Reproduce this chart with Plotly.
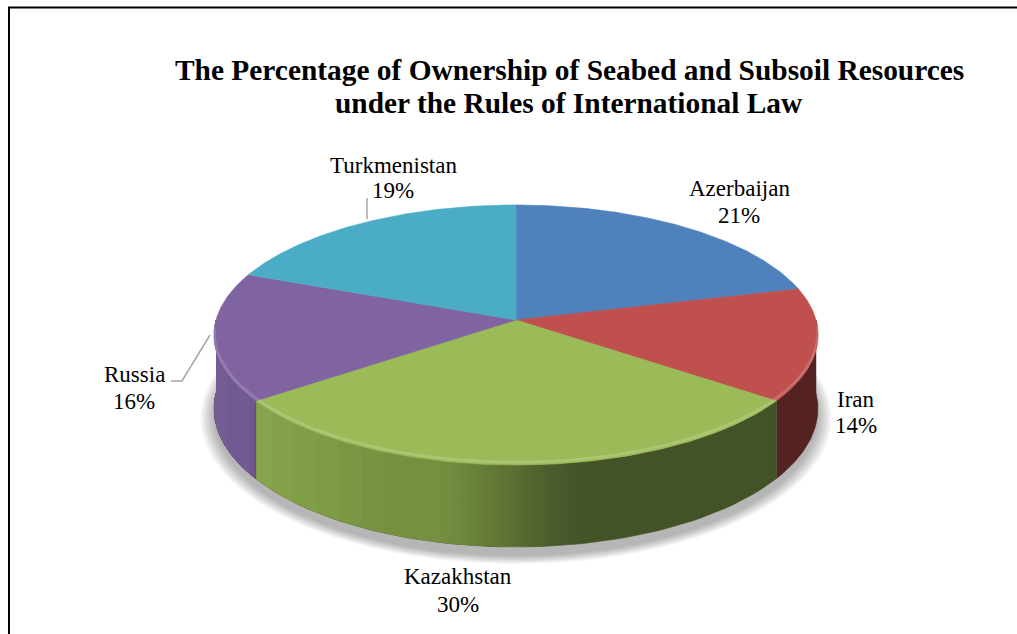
import numpy as np
import plotly.graph_objects as go

# Shares of seabed and subsoil resources (percent), clockwise from 12 o'clock
countries = ["Azerbaijan", "Iran", "Kazakhstan", "Russia", "Turkmenistan"]
shares = [21, 14, 30, 16, 19]
top_colors = ["#4F81BD", "#C0504D", "#9BBB59", "#8064A2", "#4BACC6"]

title_lines = [
    "The Percentage of Ownership of Seabed and Subsoil Resources",
    "under the Rules of International Law",
]

# Label placement (pixel space of the 1017x634 canvas)
label_pos = {
    "Azerbaijan": (739, 188, 215),
    "Iran": (856, 399, 425),
    "Kazakhstan": (458, 576, 604),
    "Russia": (134, 374, 401),
    "Turkmenistan": (393, 165, 190),
}

W, H = 1017, 634
CX, CY = 516, 320      # pie centre on screen
A, B = 300, 128.3      # projected half-axes of the disc
K = 0.1154             # perspective strength (front of the disc is nearer)
DEPTH = 72.5           # thickness of the disc
SERIF = "Liberation Serif, Times New Roman, serif"


def proj(theta_deg, drop=0.0, grow=1.0):
    """Project a point of the tilted disc rim (angle in degrees, CCW from +x)."""
    t = np.radians(theta_deg)
    x, z = np.cos(t) * grow, np.sin(t) * grow
    s = 1.0 / (1.0 + K * z)
    return CX + A * x * s, CY + (drop - B * z) * s


def shade(hex_color, f):
    h = hex_color.lstrip("#")
    r, g, b = (int(h[i:i + 2], 16) for i in (0, 2, 4))
    return (int(r * f), int(g * f), int(b * f))


def side_light(u):
    u = np.asarray(u, dtype=float)
    t = np.clip((u - 0.35) / 0.3, 0, 1)
    smooth = t * t * (3 - 2 * t)
    return 0.92 - 0.12 * np.minimum(u / 0.3, 1.0) - 0.36 * smooth


F_MAX, F_MIN = float(side_light(0.0)), float(side_light(1.0))


def wall(t0, t1, n=60):
    th = np.linspace(t0, t1, n)
    tx, ty = proj(th)
    bx, by = proj(th[::-1], drop=DEPTH)
    return np.concatenate([tx, bx]), np.concatenate([ty, by])


fig = go.Figure()

# soft drop shadow under the disc
for k in range(10):
    g = 1.0 + 0.005 * k
    th = np.linspace(0, 360, 241)
    sx, sy = proj(th, drop=DEPTH + 8, grow=g)
    fig.add_trace(go.Scatter(x=sx, y=sy, fill="toself", mode="lines",
                             line=dict(width=0), fillcolor="rgba(0,0,0,0.03)",
                             hoverinfo="skip", showlegend=False))

total = float(sum(shares))
cum = np.concatenate([[0], np.cumsum(shares)]) / total
starts = 90 - 360 * cum[:-1]
ends = 90 - 360 * cum[1:]

# brightness along the front half, used to place the gradient layers
grid = np.linspace(180, 360, 1801)
gx, _ = proj(grid)
blend = (side_light((gx - (CX - A)) / (2 * A)) - F_MIN) / (F_MAX - F_MIN)
N_LAYERS = 32
cut = []
for n in range(1, N_LAYERS + 1):
    level = (n - 0.5) / N_LAYERS
    idx = np.where(blend >= level)[0]
    cut.append(grid[idx.max()] if idx.size else 180.0)

# side walls: dark base plus stacked lighter layers give a smooth gradient
for name, a0, a1, col in zip(countries, starts, ends, top_colors):
    lo, hi = min(a0, a1), max(a0, a1)
    for off in (-360, 0, 360):
        s0, s1 = max(lo + off, 180), min(hi + off, 360)
        if s1 <= s0:
            continue
        dark = "rgb({},{},{})".format(*shade(col, F_MIN))
        light = shade(col, F_MAX)
        wx, wy = wall(s0, s1)
        fig.add_trace(go.Scatter(x=wx, y=wy, fill="toself", mode="lines",
                                 line=dict(width=0.5, color=dark), fillcolor=dark,
                                 hoverinfo="skip", showlegend=False))
        for n in range(1, N_LAYERS + 1):
            e = min(s1, cut[n - 1])
            if e <= s0:
                continue
            alpha = 1.0 / (N_LAYERS - n + 1)
            wx, wy = wall(s0, e)
            fig.add_trace(go.Scatter(
                x=wx, y=wy, fill="toself", mode="none",
                fillcolor="rgba({},{},{},{:.4f})".format(*light, alpha),
                hoverinfo="skip", showlegend=False))

# top faces of the slices
for name, a0, a1, col in zip(countries, starts, ends, top_colors):
    th = np.linspace(a0, a1, 140)
    ex, ey = proj(th)
    xs = np.concatenate([[CX], ex, [CX]])
    ys = np.concatenate([[CY], ey, [CY]])
    fig.add_trace(go.Scatter(x=xs, y=ys, fill="toself", mode="lines",
                             line=dict(width=0.6, color=col), fillcolor=col,
                             hoverinfo="skip", showlegend=False, name=name))

# rounded-bevel highlight along the front rim of the top face
th = np.linspace(184, 356, 200)
hx, hy = proj(th, drop=-2.5)
fig.add_trace(go.Scatter(x=hx, y=hy, mode="lines",
                         line=dict(width=3, color="rgba(255,255,255,0.16)"),
                         hoverinfo="skip", showlegend=False))

# data labels
for name, v in zip(countries, shares):
    lx, ly1, ly2 = label_pos[name]
    fig.add_annotation(x=lx, y=ly1, text=name, showarrow=False,
                       font=dict(family=SERIF, size=23, color="#000000"),
                       xanchor="center", yanchor="middle")
    fig.add_annotation(x=lx, y=ly2, text="{:d}%".format(round(100 * v / total)),
                       showarrow=False,
                       font=dict(family=SERIF, size=23, color="#000000"),
                       xanchor="center", yanchor="middle")

# leader lines
fig.add_trace(go.Scatter(x=[367, 367], y=[198, 219], mode="lines",
                         line=dict(width=1.5, color="#a6a6a6"),
                         hoverinfo="skip", showlegend=False))
fig.add_trace(go.Scatter(x=[171, 182, 210], y=[381, 381, 335], mode="lines",
                         line=dict(width=1.5, color="#a6a6a6"),
                         hoverinfo="skip", showlegend=False))

# chart title
for i, line in enumerate(title_lines):
    fig.add_annotation(x=569, y=[70, 103][i], text="<b>{}</b>".format(line),
                       showarrow=False,
                       font=dict(family=SERIF, size=29.4, color="#000000"),
                       xanchor="center", yanchor="middle")

# chart frame
fig.add_shape(type="line", x0=9, y0=H + 5, x1=9, y1=7.5,
              line=dict(color="#000000", width=2))
fig.add_shape(type="line", x0=8, y0=7.5, x1=W + 5, y1=7.5,
              line=dict(color="#000000", width=2))

fig.update_layout(
    width=W, height=H,
    margin=dict(l=0, r=0, t=0, b=0),
    paper_bgcolor="#ffffff", plot_bgcolor="#ffffff",
    xaxis=dict(range=[0, W], visible=False, fixedrange=True),
    yaxis=dict(range=[H, 0], visible=False, fixedrange=True),
    showlegend=False,
)

fig.write_html("out.html")
